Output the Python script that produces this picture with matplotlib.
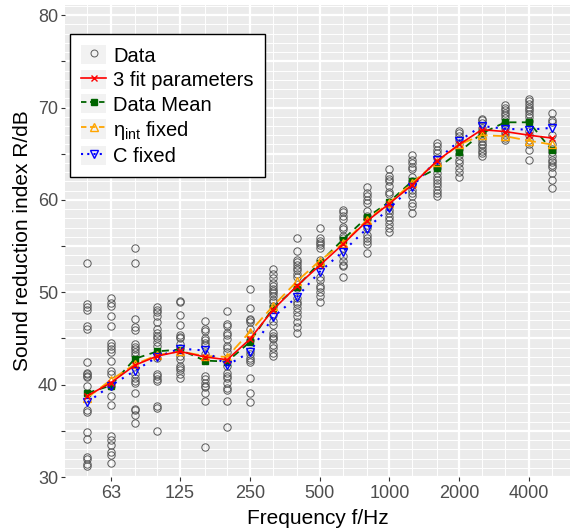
import numpy as np
import matplotlib
matplotlib.use("Agg")
import matplotlib.pyplot as plt
from matplotlib.patches import Rectangle
from matplotlib.lines import Line2D
from matplotlib.legend_handler import HandlerTuple
from matplotlib.ticker import FixedLocator, NullFormatter

plt.rcParams['font.family'] = ['Liberation Sans', 'DejaVu Sans']
plt.rcParams['mathtext.fontset'] = 'custom'
plt.rcParams['mathtext.rm'] = 'Liberation Sans'
plt.rcParams['mathtext.it'] = 'Liberation Sans:italic'

# third octave bands
bands = [50, 63, 80, 100, 125, 160, 200, 250, 315, 400, 500, 630, 800,
         1000, 1250, 1600, 2000, 2500, 3150, 4000, 5000]
tick_freqs = [63, 125, 250, 500, 1000, 2000, 4000]

# measured values per band
data_points = [
    [53.2, 48.7, 48.4, 48.1, 46.3, 46.0, 42.4, 41.3, 41.1, 40.9, 40.8, 39.9, 37.3, 37.0, 34.9, 34.1, 32.2, 31.9, 31.4, 31.2],
    [49.4, 48.8, 48.5, 47.4, 46.3, 44.5, 44.2, 43.9, 43.5, 42.6, 41.5, 41.1, 39.9, 38.8, 37.8, 34.4, 34.0, 33.5, 32.7, 32.4, 31.5],
    [54.8, 53.2, 47.1, 46.2, 45.9, 44.4, 44.1, 43.9, 43.5, 43.2, 41.2, 40.7, 40.4, 40.2, 39.1, 37.4, 37.2, 36.7, 35.8],
    [48.4, 48.1, 47.9, 47.4, 46.8, 46.0, 45.6, 45.3, 45.1, 44.6, 44.2, 43.4, 42.9, 41.2, 40.9, 40.6, 40.4, 37.7, 37.5, 35.0],
    [49.1, 48.9, 47.5, 46.5, 45.4, 45.2, 45.0, 44.4, 44.0, 43.1, 42.8, 42.0, 41.8, 41.6, 41.1, 40.7],
    [46.9, 46.0, 45.8, 45.1, 44.8, 44.5, 44.3, 43.3, 40.9, 40.6, 40.2, 39.9, 39.7, 39.1, 38.2, 33.2],
    [48.0, 46.6, 46.4, 45.6, 45.4, 44.9, 44.2, 44.0, 43.5, 42.0, 41.3, 40.9, 40.7, 40.2, 39.6, 39.4, 38.2, 35.4],
    [50.4, 48.3, 47.1, 47.0, 46.8, 46.0, 45.4, 44.8, 43.6, 43.3, 42.9, 42.7, 42.4, 40.7, 39.1, 38.1],
    [52.5, 52.0, 51.5, 51.0, 50.7, 50.4, 50.1, 49.9, 49.6, 49.2, 48.9, 48.5, 47.5, 46.9, 46.5, 45.6, 45.3, 45.1, 44.9, 44.3, 44.0, 43.4, 43.1],
    [55.9, 54.5, 53.5, 53.3, 53.0, 52.6, 52.4, 52.0, 51.7, 50.5, 49.4, 49.0, 48.7, 48.3, 47.9, 47.4, 46.8, 46.2, 45.6],
    [57.0, 55.9, 55.6, 55.3, 55.1, 54.8, 53.5, 53.0, 51.6, 51.3, 50.7, 50.5, 50.0, 49.6, 48.9],
    [58.9, 58.7, 58.3, 57.9, 57.1, 56.9, 56.1, 55.9, 54.8, 53.9, 53.4, 53.0, 52.8, 51.6],
    [61.4, 60.7, 60.4, 60.0, 59.7, 58.8, 58.3, 57.9, 57.3, 57.0, 56.2, 55.9, 55.5, 55.2, 54.3],
    [63.3, 62.6, 62.3, 62.0, 61.5, 60.9, 60.6, 59.6, 59.3, 58.9, 58.6, 58.1, 57.8, 57.4, 57.0, 56.5],
    [64.9, 64.3, 64.0, 63.6, 63.3, 62.5, 62.0, 61.6, 61.1, 60.7, 60.4, 59.7, 59.3, 58.6],
    [66.2, 65.8, 65.4, 65.1, 64.5, 64.0, 63.5, 62.9, 62.5, 62.2, 61.8, 61.5, 61.1, 60.7, 60.4],
    [67.5, 67.2, 66.9, 66.5, 66.0, 65.5, 64.9, 64.3, 64.0, 63.4, 63.0, 62.5],
    [68.8, 68.6, 68.3, 67.8, 67.5, 67.2, 66.7, 66.4, 66.1, 65.9, 65.6, 65.3, 65.1, 64.8],
    [70.3, 70.0, 69.7, 69.4, 69.2, 68.9, 68.3, 67.8, 67.3, 67.0, 66.7, 66.5],
    [70.9, 70.7, 70.4, 70.1, 69.8, 69.6, 69.3, 69.0, 68.5, 67.5, 67.0, 66.5, 66.0, 65.4, 64.3],
    [69.4, 68.6, 68.4, 67.0, 66.0, 65.5, 65.2, 64.7, 64.3, 64.1, 63.8, 63.6, 62.9, 62.2, 61.3],
]

fit3 = [38.8, 40.2, 42.1, 43.1, 43.6, 43.0, 42.7, 44.9, 48.1, 50.7, 52.9, 55.2, 57.7,
        59.6, 61.6, 64.2, 66.0, 67.6, 67.4, 67.0, 66.7]
data_mean = [39.1, 39.9, 42.8, 43.6, 43.8, 42.6, 42.5, 44.6, 48.3, 50.6, 53.2, 55.7, 58.1,
             59.8, 62.0, 63.4, 65.2, 67.2, 68.4, 68.4, 65.4]
eta_fixed = [38.6, 40.5, 42.2, 43.2, 43.6, 43.1, 43.0, 45.7, 48.5, 51.2, 53.4, 55.3, 57.8,
             59.7, 61.8, 64.1, 66.0, 67.0, 66.9, 66.4, 66.0]
c_fixed = [38.1, 39.9, 41.5, 43.0, 43.9, 43.7, 42.1, 43.5, 47.3, 49.5, 52.2, 54.4, 56.9,
           59.1, 61.4, 64.3, 66.4, 68.0, 67.7, 67.6, 67.8]

fig = plt.figure(figsize=(5.73, 5.30), dpi=100)
ax = fig.add_axes([65/573, 1-477/530, 505/573, 472/530])
ax.set_facecolor('#EBEBEB')

xs = []
ys = []
for f, vals in zip(bands, data_points):
    xs += [f]*len(vals)
    ys += vals
ax.plot(xs, ys, 'o', mfc='none', mec='#5a5a5a', ms=5.3, mew=0.7, zorder=3)

ax.plot(bands, data_mean, color='#006400', ls=(0, (4, 3)), lw=1.3, marker='s', ms=5,
        mfc='#006400', mec='#006400', zorder=4)
ax.plot(bands, eta_fixed, color='#FFA500', ls=(0, (6, 3)), lw=1.3, marker='^', ms=6,
        mfc='none', mec='#FFA500', mew=1, zorder=4)
ax.plot(bands, c_fixed, color='blue', ls=(0, (1, 3)), lw=1.5, marker='v', ms=6,
        mfc='none', mec='blue', mew=1, zorder=4)
ax.plot(bands, fit3, color='red', ls='-', lw=1.2, marker='x', ms=5, mew=1, zorder=5)

ax.set_xscale('log')
ax.set_xlim(40, 6000)
ax.set_ylim(30, 81.1)
ax.xaxis.set_major_locator(FixedLocator(tick_freqs))
ax.xaxis.set_minor_locator(FixedLocator([b for b in bands if b not in tick_freqs]))
ax.xaxis.set_minor_formatter(NullFormatter())
ax.set_xticklabels([str(t) for t in tick_freqs])
ax.set_yticks(np.arange(30, 81, 5))
ax.set_yticklabels(['%d' % v if v % 10 == 0 else '' for v in np.arange(30, 81, 5)])
ax.yaxis.set_minor_locator(FixedLocator(np.arange(30, 82, 1)))

ax.grid(which='major', color='white', lw=1.6)
ax.grid(which='minor', color='white', lw=0.7)
ax.set_axisbelow(True)
for s in ax.spines.values():
    s.set_visible(False)
ax.tick_params(which='major', length=3, width=0.8, color='#333333', labelcolor='#4D4D4D',
               labelsize=13, pad=2)
ax.tick_params(axis='x', pad=3)
ax.tick_params(which='minor', length=0)

ax.set_xlabel('Frequency f/Hz', fontsize=15, labelpad=5)
ax.set_ylabel('Sound reduction index R/dB', fontsize=15, labelpad=4)

bg = lambda: Rectangle((0, 0), 1, 1, fc='#F2F2F2', ec='none')
h_data = Line2D([], [], ls='none', marker='o', mfc='none', mec='#5a5a5a', ms=5, mew=0.7)
h_fit = Line2D([], [], color='red', lw=1.2, marker='x', ms=5, mew=1)
h_mean = Line2D([], [], color='#006400', ls=(0, (3, 2)), lw=1.3, marker='s', ms=4.5)
h_eta = Line2D([], [], color='#FFA500', ls=(0, (3, 2)), lw=1.3, marker='^', ms=6, mfc='none', mew=1)
h_c = Line2D([], [], color='blue', ls=(0, (1, 2)), lw=1.5, marker='v', ms=6, mfc='none', mew=1)
handles = [(bg(), h) for h in [h_data, h_fit, h_mean, h_eta, h_c]]
labels = ['Data', '3 fit parameters', 'Data Mean', r'$\mathregular{\eta_{int}}$ fixed', 'C fixed']

leg = fig.legend(handles, labels, loc='upper left', bbox_to_anchor=(70/573, 1-34/530),
                 handler_map={tuple: HandlerTuple(ndivide=1, pad=0)}, fontsize=14.5,
                 frameon=True, fancybox=False, edgecolor='black', framealpha=1,
                 borderpad=0.55, labelspacing=0.2, handlelength=1.25, handleheight=1.1,
                 handletextpad=0.35, borderaxespad=0)
leg.get_frame().set_linewidth(1.0)

plt.savefig('out.png', dpi=100)
